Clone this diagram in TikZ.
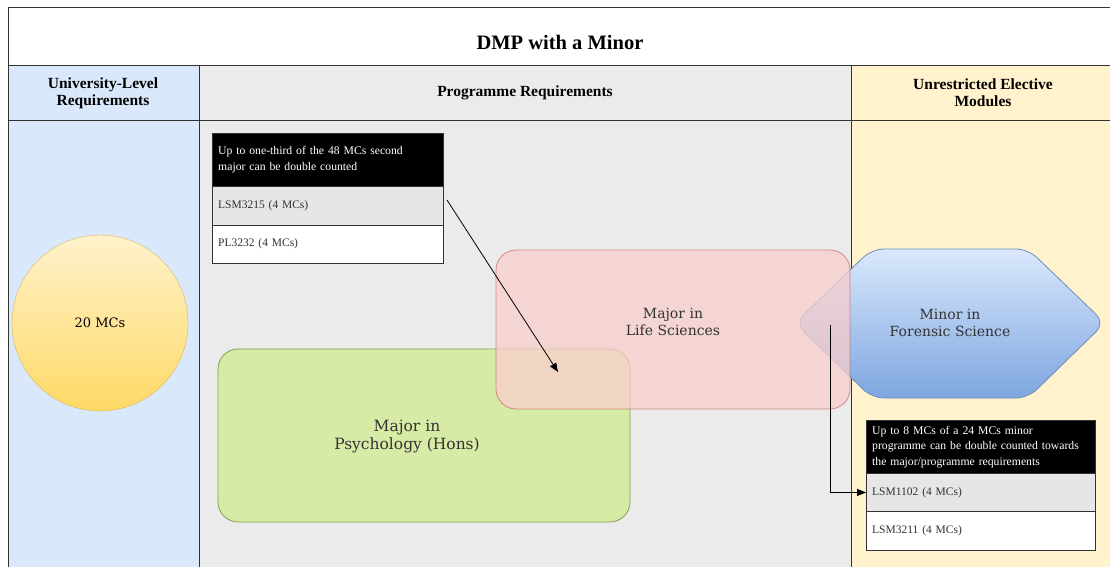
\documentclass[tikz,border=0pt]{standalone}
\usepackage{fontspec}
\setmainfont{Liberation Serif}
\newfontfamily\geo{DejaVu Serif}
\usetikzlibrary{arrows.meta}
\definecolor{colblue}{HTML}{DAE8FC}
\definecolor{colgrey}{HTML}{EBEBEB}
\definecolor{colyellow}{HTML}{FFF2CC}
\definecolor{rowgrey}{HTML}{E6E6E6}
\definecolor{pinkfill}{HTML}{F8CECC}
\definecolor{pinkline}{HTML}{B85450}
\definecolor{greenfill}{HTML}{D7EAA6}
\definecolor{greenline}{HTML}{82A050}
\definecolor{hexline}{HTML}{6C8EBF}
\definecolor{hextop}{HTML}{DAE8FC}
\definecolor{hexbot}{HTML}{7EA6E0}
\definecolor{circtop}{HTML}{FFF2CC}
\definecolor{circbot}{HTML}{FFD966}
\definecolor{circline}{HTML}{D6B656}
\definecolor{txt}{HTML}{333333}
\tikzset{
  frame/.style={draw=black!80, line width=0.9pt},
  hdrtext/.style={font=\bfseries\fontsize{15.5}{17}\selectfont, align=center, text=black},
  bigtext/.style={font=\geo\fontsize{14}{17}\selectfont, align=center, text=txt},
  tblhead/.style={draw=black!80, fill=black, text=white, anchor=north west, align=left,
    font=\fontsize{11.7}{15.5}\selectfont, inner sep=6pt, text width=#1},
  tblrow/.style={draw=black!80, anchor=north west, align=left, text=txt,
    font=\fontsize{11.5}{14}\selectfont, inner sep=6pt, text width=#1, minimum height=38.5pt},
  conn/.style={draw=black, line width=0.8pt, -{Triangle[length=9pt,width=7pt]}}
}
\begin{document}
\begin{tikzpicture}[x=1pt,y=-1pt]
\useasboundingbox (0,0) rectangle (1110,567);
% column backgrounds
\fill[white] (8,7) rectangle (1115,65);
\fill[colblue] (8,65) rectangle (199,570);
\fill[colgrey] (199,65) rectangle (851,570);
\fill[colyellow] (851,65) rectangle (1115,570);
% frame lines
\draw[frame] (8,570) -- (8,7) -- (1115,7);
\draw[frame] (8,65) -- (1115,65);
\draw[frame] (8,120) -- (1115,120);
\draw[frame] (199,65) -- (199,570);
\draw[frame] (851,65) -- (851,570);
% texts
\node[font=\bfseries\fontsize{20.5}{24}\selectfont] (title) at (560,42) {DMP with a Minor};
\node[hdrtext] (h1) at (103,93) {University-Level\\Requirements};
\node[hdrtext] (h2) at (525,93) {Programme Requirements};
\node[hdrtext] (h3) at (983,93) {Unrestricted Elective\\Modules};
% circle
\node[circle, draw=circline, top color=circtop, bottom color=circbot, minimum size=176pt, inner sep=0pt,
  font=\geo\fontsize{13}{15}\selectfont, text=black] (ulr) at (100,323) {20 MCs};
% left table
\node[tblhead=219pt, minimum height=53pt] (t1h) at (212,133) {Up to one-third of the 48 MCs second\\major can be double counted};
\node[tblrow=219pt, fill=rowgrey] (t1a) at (212,186) {LSM3215 (4 MCs)};
\node[tblrow=219pt, fill=white] (t1b) at (212,224.5) {PL3232 (4 MCs)};
% green
\draw[draw=greenline, fill=greenfill, rounded corners=20pt, line width=0.8pt] (218,349) rectangle (630,522);
\node[bigtext, font=\geo\fontsize{15.5}{18}\selectfont] (psy) at (407,437) {Major in\\Psychology (Hons)};
% hexagon
\draw[draw=hexline, top color=hextop, bottom color=hexbot, rounded corners=12pt, line width=0.8pt]
  (795,323) -- (872,249) -- (1028,249) -- (1105,323) -- (1028,398) -- (872,398) -- cycle;
\node[bigtext] (fs) at (950,323) {Minor in\\Forensic Science};
% pink
\draw[draw=pinkline, fill=pinkfill, fill opacity=0.75, draw opacity=0.6, rounded corners=20pt, line width=0.8pt]
  (496,250) rectangle (850,409);
\node[bigtext] (ls) at (673,322) {Major in\\Life Sciences};
% right table
\node[tblhead=217pt, minimum height=53pt] (t2h) at (866,420) {Up to 8 MCs of a 24 MCs minor\\programme can be double counted towards\\the major/programme requirements};
\node[tblrow=217pt, fill=rowgrey] (t2a) at (866,473) {LSM1102 (4 MCs)};
\node[tblrow=217pt, fill=white] (t2b) at (866,511) {LSM3211 (4 MCs)};
% connectors
\coordinate (a1) at (447,200);
\coordinate (a2) at (558,372);
\draw[conn] (a1) -- (a2);
\coordinate (b1) at (830,325);
\draw[conn] (b1) |- (t2a.west);
\end{tikzpicture}
\end{document}
